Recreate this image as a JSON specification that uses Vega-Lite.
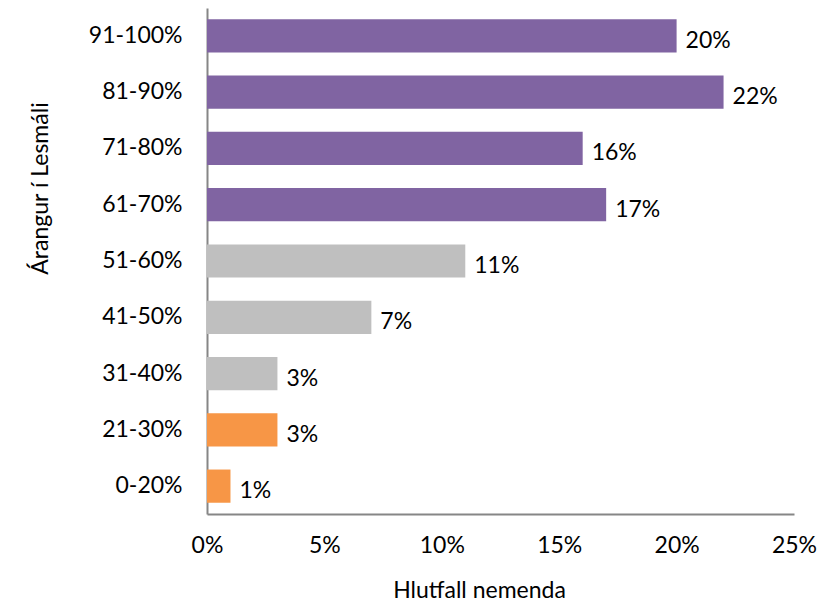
{
  "$schema": "https://vega.github.io/schema/vega-lite/v6.json",
  "autosize": {"type": "none"},
  "width": 587,
  "height": 506,
  "padding": {"left": 207, "top": 8, "right": 25, "bottom": 92},
  "background": "white",
  "config": {
    "view": {"stroke": null},
    "font": "Lato",
    "axis": {"labelFont": "Lato", "titleFont": "Lato", "grid": false, "ticks": false, "domainColor": "#868686", "domainWidth": 2}
  },
  "data": {
    "values": [
      {"flokkur": "91-100%", "hlutfall": 0.20, "hopur": "hátt"},
      {"flokkur": "81-90%", "hlutfall": 0.22, "hopur": "hátt"},
      {"flokkur": "71-80%", "hlutfall": 0.16, "hopur": "hátt"},
      {"flokkur": "61-70%", "hlutfall": 0.17, "hopur": "hátt"},
      {"flokkur": "51-60%", "hlutfall": 0.11, "hopur": "mið"},
      {"flokkur": "41-50%", "hlutfall": 0.07, "hopur": "mið"},
      {"flokkur": "31-40%", "hlutfall": 0.03, "hopur": "mið"},
      {"flokkur": "21-30%", "hlutfall": 0.03, "hopur": "lágt"},
      {"flokkur": "0-20%", "hlutfall": 0.01, "hopur": "lágt"}
    ]
  },
  "encoding": {
    "y": {
      "field": "flokkur",
      "type": "nominal",
      "sort": null,
      "scale": {"paddingInner": 0.41, "paddingOuter": 0.2},
      "axis": {"title": "Árangur í Lesmáli", "labelFontSize": 23, "titleFontSize": 23, "titleFontWeight": "normal", "labelPadding": 25, "titleX": -167, "titleY": 180, "titleBaseline": "middle", "titleAlign": "center", "labelColor": "#000", "titleColor": "#000"}
    },
    "x": {
      "field": "hlutfall",
      "type": "quantitative",
      "scale": {"domain": [0, 0.25], "nice": false},
      "axis": {"title": "Hlutfall nemenda", "values": [0, 0.05, 0.1, 0.15, 0.2, 0.25], "format": ".0%", "labelFontSize": 23, "titleFontSize": 23, "titleFontWeight": "normal", "labelPadding": 20, "titleX": 272, "titleY": 76, "titleBaseline": "middle", "titleAlign": "center", "labelColor": "#000", "titleColor": "#000", "labelFlush": false}
    }
  },
  "layer": [
    {
      "mark": {"type": "bar"},
      "encoding": {
        "color": {
          "field": "hopur",
          "type": "nominal",
          "scale": {"domain": ["hátt", "mið", "lágt"], "range": ["#8064A2", "#BFBFBF", "#F79646"]},
          "legend": null
        }
      }
    },
    {
      "mark": {"type": "text", "align": "left", "baseline": "middle", "dx": 9, "dy": 5, "fontSize": 23, "color": "#000"},
      "encoding": {
        "text": {"field": "hlutfall", "type": "quantitative", "format": ".0%"}
      }
    }
  ]
}
